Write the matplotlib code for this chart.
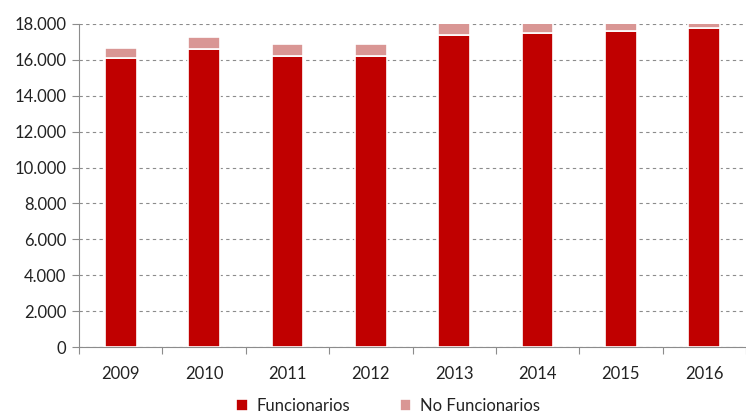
import matplotlib.pyplot as plt
from matplotlib.ticker import FuncFormatter

# Data
years = ['2009', '2010', '2011', '2012', '2013', '2014', '2015', '2016']
funcionarios = [16120, 16600, 16230, 16230, 17390, 17480, 17630, 17760]
no_funcionarios = [560, 670, 670, 670, 700, 650, 600, 520]

red = '#C00000'
pink = '#D99694'

plt.rcParams['font.family'] = ['Lato', 'DejaVu Sans']

fig = plt.figure(figsize=(7.46, 4.15), dpi=100)
ax = fig.add_axes([79 / 746, 1 - 347 / 415, (746 - 79) / 746, (347 - 24) / 415])

x = list(range(len(years)))
w = 0.38
ax.bar(x, funcionarios, width=w, color=red, edgecolor='white', linewidth=1.2,
       label='Funcionarios', zorder=3)
ax.bar(x, no_funcionarios, width=w, bottom=funcionarios, color=pink,
       edgecolor='white', linewidth=1.2, label='No Funcionarios', zorder=3)

ax.set_xlim(-0.5, len(years) - 0.5)
ax.set_ylim(0, 18000)
ax.set_yticks(range(0, 18001, 2000))
ax.yaxis.set_major_formatter(FuncFormatter(lambda v, p: f'{int(v):,}'.replace(',', '.')))
ax.grid(axis='y', color='#8c8c8c', linestyle=(0, (3, 3)), linewidth=0.8, zorder=0)

# category ticks between bars, labels centred
ax.set_xticks([i + 0.5 for i in range(-1, len(years))])
ax.set_xticklabels([])
ax.set_xticks(x, minor=True)
ax.set_xticklabels(years, minor=True)
ax.tick_params(axis='x', which='major', length=5, color='#8c8c8c', direction='out')
ax.tick_params(axis='x', which='minor', length=0, pad=14, labelsize=12, colors='#222222')
ax.tick_params(axis='y', length=5, color='#8c8c8c', labelsize=12, colors='#222222', pad=4)

for s in ['top', 'right']:
    ax.spines[s].set_visible(False)
for s in ['left', 'bottom']:
    ax.spines[s].set_color('#8c8c8c')

leg = fig.legend(loc='lower center', bbox_to_anchor=(0.52, -0.022), ncol=2, frameon=False,
                 fontsize=12, handlelength=0.7, handleheight=0.7, columnspacing=3.0,
                 handletextpad=0.5, borderpad=0.1)
for t in leg.get_texts():
    t.set_color('#222222')

fig.savefig('out.png', dpi=100)
